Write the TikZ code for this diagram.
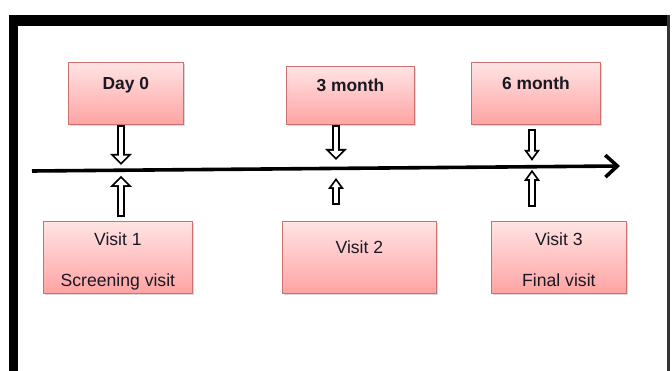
\documentclass[tikz,border=0pt]{standalone}
\usepackage{fontspec}
\setmainfont{Liberation Sans}
\usetikzlibrary{arrows.meta,shadows,calc}
\definecolor{pinktop}{RGB}{255,228,228}
\definecolor{pinkbot}{RGB}{255,163,163}
\definecolor{boxline}{RGB}{205,112,112}
\definecolor{ink}{RGB}{25,25,35}
\tikzset{
  box/.style={draw=boxline, line width=0.8pt, top color=pinktop, bottom color=pinkbot,
    drop shadow={shadow xshift=1.2pt, shadow yshift=-2pt, opacity=0.3},
    anchor=north west, inner xsep=0pt, inner ysep=0pt, align=center, text=ink,
    font=\fontsize{17.6}{21}\selectfont},
  topbox/.style={box, font=\fontsize{17.4}{21}\selectfont\bfseries},
  hollow/.style={line width=8pt, -{Triangle[width=22pt,length=11pt,line width=0pt]},
    postaction={draw=white, line width=4.4pt, shorten <=1.8pt, shorten >=2.55pt,
      -{Triangle[width=13.3pt,length=6.65pt,line width=0pt]}}},
  hollow narrow/.style={line width=8pt, -{Triangle[width=16pt,length=11pt,line width=0pt]},
    postaction={draw=white, line width=4.4pt, shorten <=1.8pt, shorten >=3.06pt,
      -{Triangle[width=8.9pt,length=6.14pt,line width=0pt]}}},
}
\begin{document}
\begin{tikzpicture}[x=1pt,y=1pt]
\useasboundingbox (0,0) rectangle (672,371);
% frame
\fill (9.4,0) rectangle (18,355.6);
\fill (9.4,345.3) rectangle (669.5,355.6);
\fill[black!80] (666.5,0) rectangle (669.5,355.6);
% time points
\node[topbox, minimum width=115pt, minimum height=62pt, text height=27pt, text depth=35pt] (day) at (68,309) {Day 0};
\node[topbox, minimum width=128pt, minimum height=58pt, text height=25pt, text depth=33pt] (m3) at (286,305) {3 month};
\node[topbox, minimum width=129pt, minimum height=62pt, text height=27pt, text depth=35pt] (m6) at (471,309) {6 month};
% visits
\node[box, minimum width=149pt, minimum height=72pt, text height=65.4pt, text depth=6.6pt] (v1) at (43,150) {Visit 1\\[20.6pt]Screening visit};
\node[box, minimum width=154pt, minimum height=72pt, text height=32.4pt, text depth=39.6pt] (v2) at (282,150) {Visit 2};
\node[box, minimum width=135pt, minimum height=72pt, text height=65.4pt, text depth=6.6pt] (v3) at (491,150) {Visit 3\\[20.6pt]Final visit};
% time line
\coordinate (tl start) at (32,200);
\coordinate (tl end) at (620,205);
\coordinate (t0) at (121,200.8);
\coordinate (t1) at (336,202.6);
\coordinate (t2) at (532,204.2);
\path[draw,line width=3.6pt,-{Straight Barb[length=12pt,width=22pt]}] (tl start) -- (tl end);
\path[draw,hollow] (day.south -| t0) -- ($(t0)+(0,5.3)$);
\path[draw,hollow] (m3.south -| t1) -- ($(t1)+(0,8.4)$);
\path[draw,hollow narrow] ($(m6.south -| t2)+(0,-4)$) -- ($(t2)+(0,6)$);
\path[draw,hollow] ($(v1.north -| t0)+(0,4)$) -- ($(t0)+(0,-5.7)$);
\path[draw,hollow narrow] ($(v2.north -| t1)+(0,16)$) -- ($(t1)+(0,-9.6)$);
\path[draw,hollow narrow] ($(v3.north -| t2)+(0,14)$) -- ($(t2)+(0,-3)$);
\end{tikzpicture}
\end{document}
